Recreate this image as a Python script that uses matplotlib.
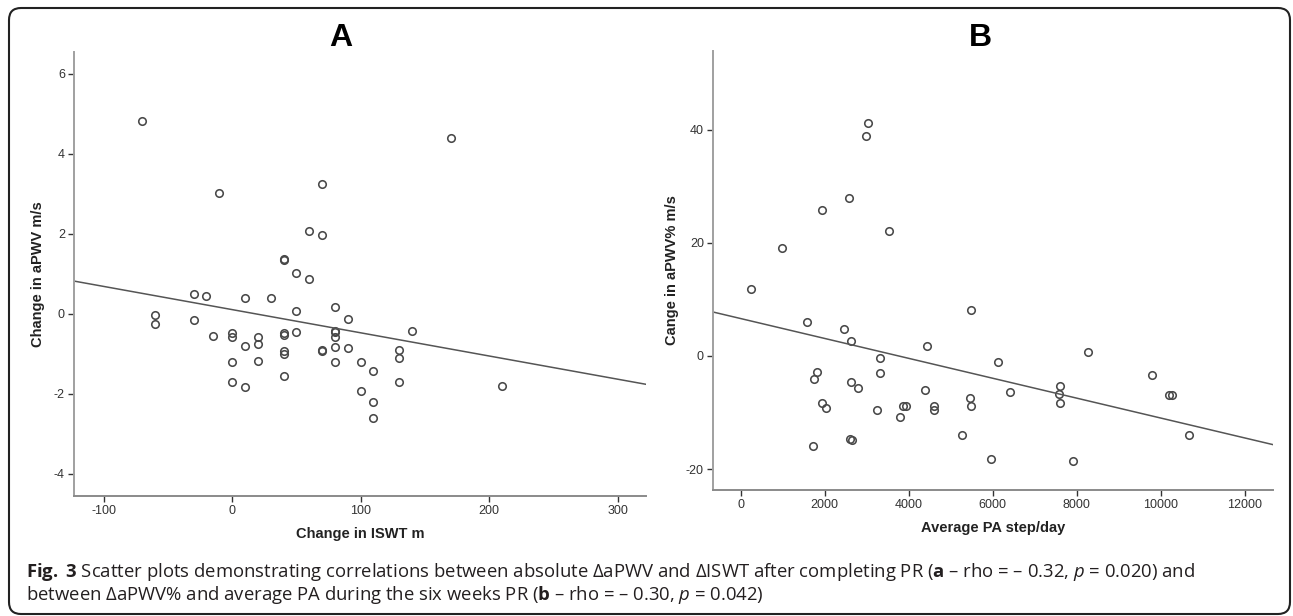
import matplotlib
matplotlib.use("Agg")
import matplotlib.pyplot as plt
from matplotlib.patches import FancyBboxPatch

# ---------------- data ----------------
# Panel A: change in ISWT (m) vs change in aPWV (m/s)
iswt_change = [-70, 170, -10, 70, 60, 70, 40, 40, 50, 60,
               -30, -20, 10, 30, 50, 80, -60, -60, -30, 90,
               140, -15, 0, 0, 20, 20, 10, 40, 40, 50,
               80, 80, 80, 80, 90, 70, 70, 40, 40, 130,
               130, 0, 20, 80, 100, 110, 130, 0, 10, 40,
               100, 110, 110, 210]
apwv_change = [4.83, 4.41, 3.03, 3.24, 2.08, 1.98, 1.38, 1.36, 1.02, 0.87,
               0.50, 0.46, 0.41, 0.41, 0.075, 0.18, -0.03, -0.26, -0.14, -0.13,
               -0.43, -0.55, -0.48, -0.57, -0.58, -0.76, -0.79, -0.48, -0.52, -0.46,
               -0.42, -0.46, -0.58, -0.83, -0.85, -0.90, -0.92, -0.92, -1.00, -0.90,
               -1.09, -1.21, -1.18, -1.19, -1.21, -1.43, -1.69, -1.69, -1.83, -1.54,
               -1.92, -2.19, -2.59, -1.79]
fit_a_intercept = 0.11
fit_a_slope = -0.0058

# Panel B: average PA (steps/day) vs change in aPWV (%)
steps_per_day = [3031, 2983, 2585, 1943, 3527, 993, 250, 5488, 1586, 2466,
                 2636, 4439, 8272, 3328, 6133, 3328, 1824, 1754, 9797, 2636,
                 2794, 4398, 7597, 7568, 6400, 10192, 10252, 5468, 5488, 7597,
                 1943, 2041, 3874, 3934, 4597, 4597, 3239, 3794, 5271, 10675,
                 2592, 2648, 1712, 5961, 7910]
apwv_pct_change = [41.1, 38.8, 28.0, 25.8, 22.0, 19.0, 11.75, 8.2, 6.0, 4.76,
                   2.63, 1.69, 0.68, -0.44, -1.1, -3.1, -2.93, -4.05, -3.4, -4.65,
                   -5.65, -6.0, -5.35, -6.66, -6.42, -6.83, -6.83, -7.49, -8.79, -8.26,
                   -8.37, -9.14, -8.9, -8.9, -8.79, -9.62, -9.56, -10.86, -14.06, -14.06,
                   -14.77, -14.95, -15.95, -18.3, -18.55]
fit_b_intercept = 6.61
fit_b_slope = -0.00176

xticks_a = [-100, 0, 100, 200, 300]
yticks_a = [-4, -2, 0, 2, 4, 6]
xticks_b = [0, 2000, 4000, 6000, 8000, 10000, 12000]
yticks_b = [-20, 0, 20, 40]

caption_line1 = (r"$\mathbf{Fig.}$ $\mathbf{3}$ Scatter plots demonstrating correlations between absolute "
                 r"ΔaPWV and ΔISWT after completing PR ($\mathbf{a}$ – rho = – 0.32, $\mathit{p}$ = 0.020) and")
caption_line2 = (r"between ΔaPWV% and average PA during the six weeks PR "
                 r"($\mathbf{b}$ – rho = – 0.30, $\mathit{p}$ = 0.042)")

# ---------------- style ----------------
plt.rcParams['font.family'] = ['Liberation Sans', 'DejaVu Sans']
plt.rcParams['axes.unicode_minus'] = False
plt.rcParams['mathtext.fontset'] = 'custom'
plt.rcParams['mathtext.rm'] = 'Open Sans'
plt.rcParams['mathtext.bf'] = 'Open Sans:bold'
plt.rcParams['mathtext.it'] = 'Open Sans:italic'

W, H = 1293, 616
fig = plt.figure(figsize=(W / 100, H / 100), dpi=100)
fig.patch.set_facecolor('white')

def px_axes(left, top, right, bottom):
    return fig.add_axes([left / W, 1 - bottom / H, (right - left) / W, (bottom - top) / H])

ax_a = px_axes(74, 52, 646, 496)
ax_b = px_axes(713, 51, 1273, 490)

marker_kw = dict(marker='o', linestyle='none', markersize=5.4, markerfacecolor='none',
                 markeredgecolor='#484848', markeredgewidth=1.15)

def style_axes(ax):
    for s in ['top', 'right']:
        ax.spines[s].set_visible(False)
    ax.spines['left'].set_color('#a0a0a0')
    ax.spines['bottom'].set_color('#8a8a8a')
    ax.spines['left'].set_linewidth(1.4)
    ax.spines['bottom'].set_linewidth(1.4)
    ax.tick_params(direction='out', length=4.5, width=1.0, color='#333333',
                   labelsize=9, labelcolor='#333333', pad=2)
    ax.set_facecolor('white')

# Panel A
ax_a.plot(iswt_change, apwv_change, **marker_kw)
ax_a.axline((0, fit_a_intercept), slope=fit_a_slope, color='#555555', linewidth=1.1)
ax_a.set_xlim(-123, 322)
ax_a.set_ylim(-4.55, 6.55)
ax_a.set_xticks(xticks_a)
ax_a.set_yticks(yticks_a)
style_axes(ax_a)

# Panel B
ax_b.plot(steps_per_day, apwv_pct_change, **marker_kw)
ax_b.axline((0, fit_b_intercept), slope=fit_b_slope, color='#555555', linewidth=1.1)
ax_b.set_xlim(-656, 12665)
ax_b.set_ylim(-23.7, 53.9)
ax_b.set_xticks(xticks_b)
ax_b.set_yticks(yticks_b)
style_axes(ax_b)

# Titles
fig.text(341 / W, 1 - 38 / H, 'A', ha='center', va='center', fontsize=23, fontweight='bold')
fig.text(980 / W, 1 - 38 / H, 'B', ha='center', va='center', fontsize=23, fontweight='bold')

# Axis labels
fig.text(38 / W, 1 - 274 / H, 'Change in aPWV m/s', rotation=90, ha='center', va='center',
         fontsize=10.5, fontweight='bold', color='#222222')
fig.text(672 / W, 1 - 270 / H, 'Cange in aPWV% m/s', rotation=90, ha='center', va='center',
         fontsize=10.5, fontweight='bold', color='#222222')
fig.text(360 / W, 1 - 534 / H, 'Change in ISWT m', ha='center', va='center',
         fontsize=10.5, fontweight='bold', color='#222222')
fig.text(993 / W, 1 - 528 / H, 'Average PA step/day', ha='center', va='center',
         fontsize=10.5, fontweight='bold', color='#222222')

# Rounded border
box = FancyBboxPatch((0.09, 0.02), 12.81, 6.06,
                     boxstyle="round,pad=0,rounding_size=0.12",
                     transform=fig.dpi_scale_trans, fill=False, linewidth=1.5,
                     edgecolor='#222222')
fig.patches.append(box)

# Caption
cap_kw = dict(ha='left', va='baseline', fontsize=13.3, family=['Open Sans', 'DejaVu Sans'],
              color='#231f20')
fig.text(26 / W, 1 - 577 / H, caption_line1, **cap_kw)
fig.text(26 / W, 1 - 600 / H, caption_line2, **cap_kw)

fig.savefig('out.png', dpi=100, facecolor='white')
